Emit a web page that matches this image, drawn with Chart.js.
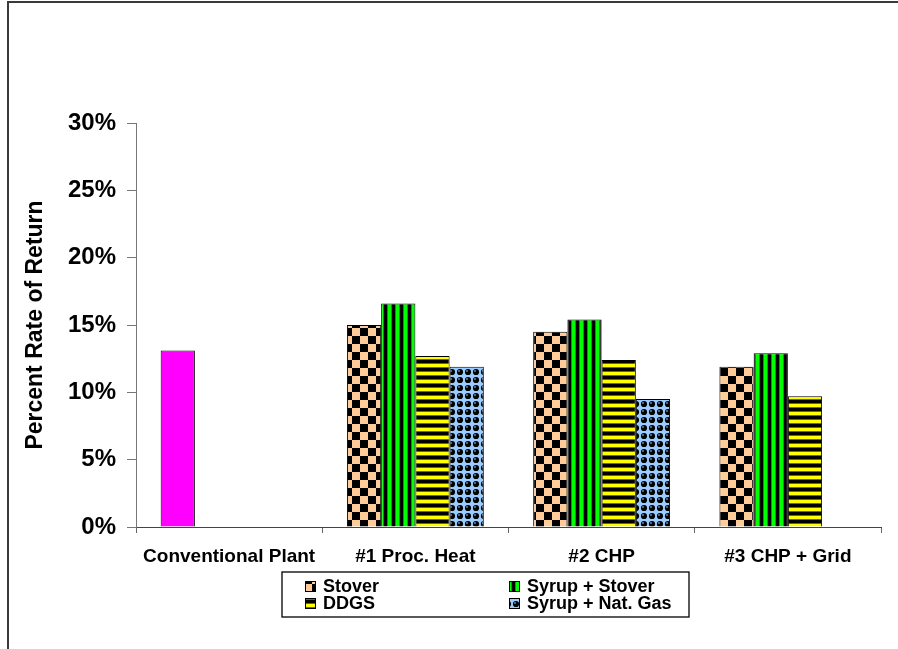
<!DOCTYPE html>
<html>
<head>
<meta charset="utf-8">
<script src="https://cdn.jsdelivr.net/npm/chart.js@4"></script>
<style>
  html, body { margin: 0; padding: 0; background: #fff; overflow: hidden; }
  #wrap { position: relative; width: 898px; height: 649px; }
  #frame { position: absolute; left: 7px; top: 1px; width: 1000px; height: 800px;
           border-left: 2px solid #3a3a3a; border-top: 2px solid #3a3a3a; }
  canvas { position: absolute; left: 0; top: 0; }
</style>
</head>
<body>
<div id="wrap">
  <div id="frame"></div>
  <canvas id="chart" width="898" height="649"></canvas>
</div>
<script>
// Rate of return by plant configuration
const categories = ['Conventional Plant', '#1 Proc. Heat', '#2 CHP', '#3 CHP + Grid'];
const seriesNames = ['Stover', 'Syrup + Stover', 'DDGS', 'Syrup + Nat. Gas'];
const stover      = [13.1, 15.0, 14.5, 11.9];
const syrupStover = [null, 16.6, 15.4, 12.9];
const ddgs        = [null, 12.7, 12.4, 9.7];
const syrupNatGas = [null, 11.9, 9.5, null];
const yTickValues = [0, 5, 10, 15, 20, 25, 30];

const FONT = '"Liberation Sans", Arial, sans-serif';

// Pattern fills for the bars
function makePattern(w, h, paint) {
  const c = document.createElement('canvas');
  c.width = w; c.height = h;
  const g = c.getContext('2d');
  paint(g);
  return document.getElementById('chart').getContext('2d').createPattern(c, 'repeat');
}
const checker = makePattern(16, 16, g => {
  g.fillStyle = '#ffcc99'; g.fillRect(0, 0, 16, 16);
  g.fillStyle = '#000'; g.fillRect(0, 0, 8, 8); g.fillRect(8, 8, 8, 8);
});
const greenStripes = makePattern(8, 8, g => {
  g.fillStyle = '#000'; g.fillRect(0, 0, 8, 8);
  g.fillStyle = '#00a000'; g.fillRect(3, 0, 5, 8);
  g.fillStyle = '#00ff00'; g.fillRect(4, 0, 3, 8);
});
const yellowStripes = makePattern(8, 8, g => {
  g.fillStyle = '#000'; g.fillRect(0, 0, 8, 8);
  g.fillStyle = '#6b6b00'; g.fillRect(0, 3, 8, 5);
  g.fillStyle = '#ffff00'; g.fillRect(0, 4, 8, 3);
});
const spheres = makePattern(8, 8, g => {
  g.fillStyle = '#99ccff'; g.fillRect(0, 0, 8, 8);
  g.fillStyle = '#000';
  g.beginPath(); g.arc(4, 4, 3.1, 0, Math.PI * 2); g.fill();
  g.fillStyle = '#5b7fa8';
  g.beginPath(); g.arc(3, 3, 1.1, 0, Math.PI * 2); g.fill();
});
const fills = [checker, greenStripes, yellowStripes, spheres];
const conventionalFill = '#ff00ff';

// Boxed two-column legend under the axis
const boxedLegend = {
  id: 'boxedLegend',
  afterDraw(chart) {
    const ctx = chart.ctx;
    const box = { x: 282, y: 572, w: 407, h: 45 };
    ctx.save();
    ctx.strokeStyle = '#000';
    ctx.lineWidth = 1.3;
    ctx.strokeRect(box.x, box.y, box.w, box.h);
    const cols = [box.x + 23, box.x + 227];
    const rows = [box.y + 14, box.y + 31];
    ctx.font = 'bold 18px ' + FONT;
    ctx.textBaseline = 'middle';
    seriesNames.forEach((name, k) => {
      const cx = cols[k % 2], cy = rows[Math.floor(k / 2)];
      ctx.fillStyle = fills[k];
      ctx.fillRect(cx, cy - 5, 10, 10);
      ctx.strokeStyle = '#000';
      ctx.lineWidth = 1;
      ctx.strokeRect(cx + 0.5, cy - 4.5, 10, 10);
      ctx.fillStyle = '#000';
      ctx.fillText(name, cx + 18, cy + 1);
    });
    ctx.restore();
  }
};

const datasets = [stover, syrupStover, ddgs, syrupNatGas].map((vals, i) => ({
  label: seriesNames[i],
  data: vals,
  backgroundColor: i === 0 ? vals.map((v, j) => j === 0 ? conventionalFill : fills[0]) : fills[i],
  borderColor: '#000',
  borderWidth: 1,
  categoryPercentage: 0.735,
  barPercentage: 1.0
}));

new Chart(document.getElementById('chart'), {
  type: 'bar',
  data: { labels: categories, datasets },
  options: {
    responsive: false,
    animation: false,
    devicePixelRatio: 1,
    layout: { padding: { top: 123, right: 17, left: 0, bottom: 0 } },
    plugins: { legend: { display: false }, tooltip: { enabled: false } },
    scales: {
      x: {
        afterFit(s) { s.height = 122; },
        grid: { offset: true, drawOnChartArea: false, drawTicks: true, tickLength: 6, color: '#666', lineWidth: 1 },
        border: { color: '#444', width: 1 },
        ticks: { color: '#000', font: { family: FONT, size: 19, weight: 'bold' }, padding: 12, maxRotation: 0, autoSkip: false }
      },
      y: {
        min: 0, max: 30,
        afterFit(s) { s.width = 136; },
        afterBuildTicks(s) { s.ticks = yTickValues.map(v => ({ value: v })); },
        grid: { drawOnChartArea: false, drawTicks: true, tickLength: 9, color: '#777', lineWidth: 1 },
        border: { color: '#777', width: 1 },
        ticks: {
          color: '#000', padding: 11,
          font: { family: FONT, size: 24, weight: 'bold' },
          callback: v => v + '%'
        },
        title: {
          display: true, text: 'Percent Rate of Return', color: '#000',
          font: { family: FONT, size: 23, weight: 'bold' },
          padding: { top: 22, bottom: 0 }
        }
      }
    }
  },
  plugins: [boxedLegend]
});
</script>
</body>
</html>
